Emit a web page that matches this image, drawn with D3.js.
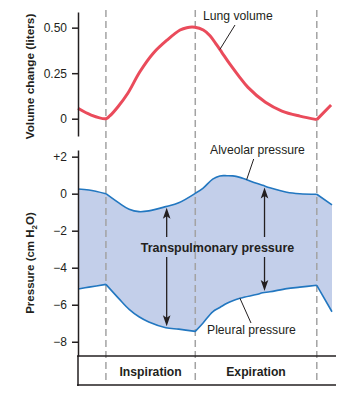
<!DOCTYPE html>
<html>
<head>
<meta charset="utf-8">
<style>
  body { margin: 0; background: #fff; }
  #chart text { font-family: "Liberation Sans", Arial, sans-serif; fill: #231f20; }
  #chart .tick text { font-size: 12px; }
  #chart .title { font-size: 11.8px; font-weight: bold; }
  #chart .note { font-size: 12.2px; }
  #chart .big { font-size: 12.5px; font-weight: bold; }
</style>
<script src="https://d3js.org/d3.v7.min.js"></script>
</head>
<body>
<svg id="chart"></svg>
<script>
// phase boundaries (s) and names
var phaseBounds = [0, 2, 4.72];
var phaseNames = ["Inspiration", "Expiration"];

// lung volume change (liters)
var volTime = [-0.625, -0.33, 0, 0.085, 0.27, 0.49, 0.76, 1.06, 1.36, 1.66, 1.81, 1.99, 2.18, 2.33, 2.48, 2.59, 2.78, 3.0, 3.18, 3.57, 3.94, 4.34, 4.72, 5.04];
var lungVolume = [0.057, 0.02, 0.0, 0.015, 0.066, 0.14, 0.258, 0.36, 0.43, 0.487, 0.5, 0.502, 0.487, 0.456, 0.405, 0.366, 0.298, 0.226, 0.172, 0.09, 0.042, 0.014, -0.005, 0.075];

// pressures (cm H2O)
var presTime = [-0.62, -0.38, 0, 0.29, 0.52, 0.74, 0.96, 1.34, 1.63, 2, 2.17, 2.39, 2.55, 2.71, 2.84, 3.0, 3.11, 3.37, 3.51, 3.67, 4.05, 4.34, 4.72, 5.06];
var alveolar = [0.25, 0.2, 0, -0.5, -0.84, -0.97, -0.93, -0.7, -0.49, 0.02, 0.29, 0.79, 0.96, 0.97, 0.96, 0.88, 0.79, 0.56, 0.45, 0.32, 0.08, 0, -0.03, -0.61];
var pleural = [-5.15, -5.05, -4.9, -5.67, -6.25, -6.65, -6.93, -7.24, -7.32, -7.44, -7.0, -6.38, -6.15, -5.92, -5.78, -5.65, -5.58, -5.45, -5.35, -5.3, -5.13, -5.05, -4.95, -6.38];

var volTicks = [0, 0.25, 0.5];
var volTickLabels = ["0", "0.25", "0.50"];
var presTicks = [2, 0, -2, -4, -6, -8];
var presTickLabels = ["+2", "0", "\u22122", "\u22124", "\u22126", "\u22128"];

// arrow times for transpulmonary pressure
var arrowTimes = [1.36, 3.55];

var width = 364, height = 394;

var svg = d3.select("#chart").attr("width", width).attr("height", height);

var x = d3.scaleLinear().domain([-0.625, 5.15]).range([78, 336]);
var yV = d3.scaleLinear().domain([-0.095, 0.586]).range([136, 12]);
var yP = d3.scaleLinear().domain([-8.77, 2.36]).range([356, 150]);

var curve = d3.curveCatmullRom.alpha(0.5);

// split a series into pieces at given times so corners stay sharp
function pieces(times, cols, breaks) {
  var pts = times.map(function(t, i) {
    var o = { t: t };
    for (var k in cols) o[k] = cols[k][i];
    return o;
  });
  var out = [], cur = [];
  pts.forEach(function(p, i) {
    cur.push(p);
    if (i > 0 && i < pts.length - 1 && breaks.indexOf(p.t) >= 0) {
      out.push(cur);
      cur = [p];
    }
  });
  out.push(cur);
  return out;
}

function valueAt(times, vals, t) {
  var i = d3.bisectLeft(times, t);
  if (i <= 0) return vals[0];
  var f = (t - times[i - 1]) / (times[i] - times[i - 1]);
  return vals[i - 1] + f * (vals[i] - vals[i - 1]);
}

// pressure fill
var presPieces = pieces(presTime, { alv: alveolar, ple: pleural }, phaseBounds);
var area = d3.area()
    .x(function(d) { return x(d.t); })
    .y0(function(d) { return yP(d.ple); })
    .y1(function(d) { return yP(d.alv); })
    .curve(curve);
svg.append("path")
    .attr("d", presPieces.map(area).join(""))
    .attr("fill", "#c3cfea");

// dashed phase lines
svg.selectAll(".phase")
    .data(phaseBounds)
  .enter().append("line")
    .attr("x1", function(d) { return x(d); })
    .attr("x2", function(d) { return x(d); })
    .attr("y1", 10).attr("y2", 384)
    .attr("stroke", "#a3a3a3")
    .attr("stroke-width", 1.5)
    .attr("stroke-dasharray", "7,4");

// pressure lines
["alv", "ple"].forEach(function(key) {
  var line = d3.line()
      .x(function(d) { return x(d.t); })
      .y(function(d) { return yP(d[key]); })
      .curve(curve);
  svg.append("path")
      .attr("d", presPieces.map(line).join(""))
      .attr("fill", "none")
      .attr("stroke", "#2277c0")
      .attr("stroke-width", 1.6);
});

// lung volume line
var volPieces = pieces(volTime, { v: lungVolume }, [phaseBounds[2]]);
var vline = d3.line()
    .x(function(d) { return x(d.t); })
    .y(function(d) { return yV(d.v); })
    .curve(curve);
svg.append("path")
    .attr("d", volPieces.map(vline).join(""))
    .attr("fill", "none")
    .attr("stroke", "#ea4b5b")
    .attr("stroke-width", 3)
    .attr("stroke-linejoin", "round");

// axes
var axV = svg.append("g")
    .attr("transform", "translate(78,0)")
    .call(d3.axisLeft(yV).tickValues(volTicks)
      .tickFormat(function(d, i) { return volTickLabels[i]; })
      .tickSize(6).tickSizeOuter(0).tickPadding(5));
var axP = svg.append("g")
    .attr("transform", "translate(78,0)")
    .call(d3.axisLeft(yP).tickValues(presTicks)
      .tickFormat(function(d, i) { return presTickLabels[i]; })
      .tickSize(6).tickSizeOuter(0).tickPadding(5));
[axV, axP].forEach(function(g) {
  g.selectAll("path, line").attr("stroke", "#231f20").attr("stroke-width", 1.5);
  g.selectAll("text").attr("font-family", null).attr("font-size", null);
});

// frame for phase strip
svg.append("line").attr("x1", 78).attr("x2", 78).attr("y1", 356).attr("y2", 386)
    .attr("stroke", "#231f20").attr("stroke-width", 1.5);
[356, 385].forEach(function(yy) {
  svg.append("line").attr("x1", 77).attr("x2", 336).attr("y1", yy).attr("y2", yy)
      .attr("stroke", "#231f20").attr("stroke-width", 1.5);
});

// phase labels
svg.selectAll(".phaseName")
    .data(phaseNames)
  .enter().append("text")
    .attr("class", "title")
    .attr("x", function(d, i) { return (x(phaseBounds[i]) + x(phaseBounds[i + 1])) / 2; })
    .attr("y", 375.5)
    .attr("text-anchor", "middle")
    .style("font-size", "12.2px")
    .text(function(d) { return d; });

// axis titles
svg.append("text")
    .attr("class", "title")
    .attr("transform", "translate(34,76.5) rotate(-90)")
    .attr("text-anchor", "middle")
    .text("Volume change (liters)");
var pt = svg.append("text")
    .attr("class", "title")
    .attr("transform", "translate(34,263) rotate(-90)")
    .attr("text-anchor", "middle")
    .style("font-size", "11.5px");
pt.append("tspan").text("Pressure (cm H");
pt.append("tspan").attr("dy", 3).style("font-size", "8px").text("2");
pt.append("tspan").attr("dy", -3).text("O)");

// annotations with leader lines
function note(txt, tx, ty, x1, y1, x2, y2) {
  svg.append("line").attr("x1", x1).attr("y1", y1).attr("x2", x2).attr("y2", y2)
      .attr("stroke", "#231f20").attr("stroke-width", 1);
  svg.append("text").attr("class", "note").attr("x", tx).attr("y", ty).text(txt);
}
note("Lung volume", 203, 20, 235, 25, x(2.55), yV(valueAt(volTime, lungVolume, 2.55)));
note("Alveolar pressure", 210, 154, 253.7, 159, x(3.15), yP(valueAt(presTime, alveolar, 3.15)));
note("Pleural pressure", 207, 334, 251, 323, x(3.0), yP(valueAt(presTime, pleural, 3.0)));

// transpulmonary arrows (shaft + notched head)
function arrow(xa, yFrom, yTo) {
  var dir = yTo > yFrom ? 1 : -1;
  svg.append("line").attr("x1", xa).attr("x2", xa)
      .attr("y1", yFrom).attr("y2", yTo - dir * 6)
      .attr("stroke", "#231f20").attr("stroke-width", 1.3);
  svg.append("path")
      .attr("d", "M" + xa + "," + yTo +
        " L" + (xa - 3.8) + "," + (yTo - dir * 11) +
        " L" + xa + "," + (yTo - dir * 8.5) +
        " L" + (xa + 3.8) + "," + (yTo - dir * 11) + " Z")
      .attr("fill", "#231f20");
}
arrowTimes.forEach(function(t) {
  var xa = x(t);
  var top = yP(valueAt(presTime, alveolar, t)) + 1.5;
  var bot = yP(valueAt(presTime, pleural, t)) - 1.5;
  arrow(xa, 237, top);
  arrow(xa, 257, bot);
});

svg.append("text")
    .attr("class", "big")
    .attr("x", 217.5).attr("y", 252)
    .attr("text-anchor", "middle")
    .text("Transpulmonary pressure");
</script>
</body>
</html>
